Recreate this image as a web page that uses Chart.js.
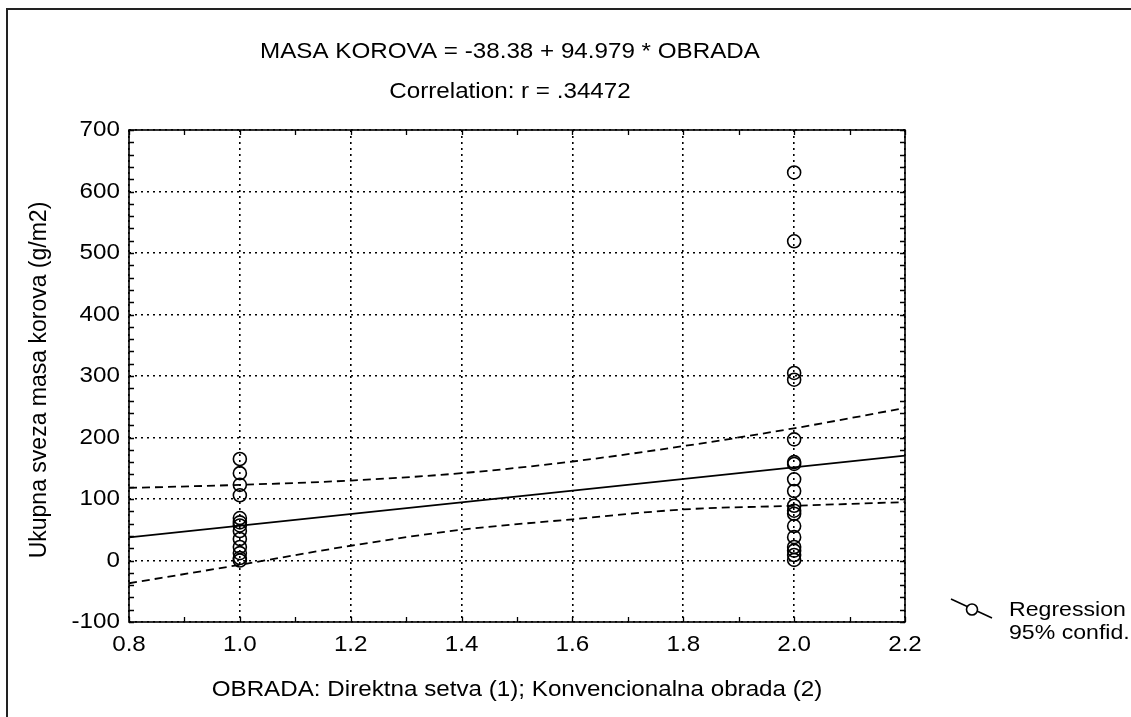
<!DOCTYPE html>
<html>
<head>
<meta charset="utf-8">
<script src="https://cdn.jsdelivr.net/npm/chart.js@4/dist/chart.umd.min.js"></script>
<style>
  html, body { margin: 0; padding: 0; background: #fff; overflow: hidden; }
  #wrap { position: relative; width: 1131px; height: 717px; }
  #frame { position: absolute; left: 6px; top: 8px; width: 2000px; height: 2000px;
           border: 2px solid #222; box-sizing: border-box; }
  #c { position: absolute; left: 0; top: 0; }
</style>
</head>
<body>
<div id="wrap">
  <div id="frame"></div>
  <canvas id="c" width="1131" height="717"></canvas>
</div>
<script>
/* ── data ─────────────────────────────────────── */
const xTicks = [0.8, 1.0, 1.2, 1.4, 1.6, 1.8, 2.0, 2.2];
const yTicks = [-100, 0, 100, 200, 300, 400, 500, 600, 700];

// OBRADA = 1 (Direktna setva)
const direktnaMasa = [165, 142, 123, 106, 69, 62, 57, 48, 35, 22, 12, 4, 0];
// OBRADA = 2 (Konvencionalna obrada)
const konvMasa = [631, 519, 305, 294, 197, 160, 157, 132, 113, 89, 81, 76, 56, 38, 22, 16, 9, 1];

// regression line end points
const regX = [0.8, 2.2];
const regY = [37.6, 170.6];

// 95% confidence band
const bandX   = [0.8, 1.0, 1.2, 1.4, 1.6, 1.8, 2.0, 2.2];
const upper95 = [118, 123, 130, 142, 161, 186, 215, 248];
const lower95 = [-37, -7, 24, 50, 67, 83, 89, 95];

const TITLE_1 = 'MASA KOROVA = -38.38 + 94.979 * OBRADA';
const TITLE_2 = 'Correlation: r = .34472';
const X_TITLE = 'OBRADA: Direktna setva (1); Konvencionalna obrada (2)';
const Y_TITLE = 'Ukupna sveza masa korova (g/m2)';

/* ── text helpers (the source is stretched wide) ── */
const FONT = '"Liberation Sans", Arial, sans-serif';
const SX = 1.1;

function wideText(ctx, str, x, y, align, size) {
  ctx.save();
  ctx.translate(x, y);
  ctx.scale(SX, 1);
  ctx.font = size + 'px ' + FONT;
  ctx.fillStyle = '#000';
  ctx.textAlign = align;
  ctx.textBaseline = 'middle';
  ctx.fillText(str, 0, 0);
  ctx.restore();
}

/* ── overlay: frame, inward ticks, labels, legend ── */
const overlay = {
  id: 'overlay',
  afterDraw(chart) {
    const ctx = chart.ctx;
    const a = chart.chartArea;
    const xs = chart.scales.x, ys = chart.scales.y;

    ctx.save();
    ctx.strokeStyle = '#000';
    ctx.lineWidth = 1.6;
    ctx.strokeRect(a.left, a.top, a.right - a.left, a.bottom - a.top);

    // minor + major ticks pointing in, on all four sides
    ctx.lineWidth = 1.3;
    ctx.beginPath();
    for (let v = 0.8; v <= 2.2001; v += 0.1) {
      const px = Math.round(xs.getPixelForValue(v)) + 0.5;
      ctx.moveTo(px, a.bottom); ctx.lineTo(px, a.bottom - 5);
      ctx.moveTo(px, a.top);    ctx.lineTo(px, a.top + 5);
    }
    for (let v = -100; v <= 700; v += 20) {
      const py = Math.round(ys.getPixelForValue(v)) + 0.5;
      ctx.moveTo(a.left, py);  ctx.lineTo(a.left + 5, py);
      ctx.moveTo(a.right, py); ctx.lineTo(a.right - 5, py);
    }
    ctx.stroke();
    ctx.restore();

    // tick labels
    yTicks.forEach(v => wideText(ctx, String(v), a.left - 9, ys.getPixelForValue(v), 'right', 22));
    xTicks.forEach(v => wideText(ctx, v.toFixed(1), xs.getPixelForValue(v), 645, 'center', 22));

    // titles
    wideText(ctx, TITLE_1, 510, 52, 'center', 22);
    wideText(ctx, TITLE_2, 510, 92, 'center', 22);
    wideText(ctx, X_TITLE, 517, 690, 'center', 22);

    ctx.save();
    ctx.translate(40, 380);
    ctx.rotate(-Math.PI / 2);
    ctx.font = '23px ' + FONT;
    ctx.fillStyle = '#000';
    ctx.textAlign = 'center';
    ctx.textBaseline = 'middle';
    ctx.fillText(Y_TITLE, 0, 0);
    ctx.restore();

    // legend
    ctx.save();
    ctx.strokeStyle = '#000';
    ctx.lineWidth = 1.6;
    ctx.beginPath();
    ctx.moveTo(951, 599); ctx.lineTo(992, 618);
    ctx.stroke();
    ctx.beginPath();
    ctx.arc(972, 609.5, 5.5, 0, Math.PI * 2);
    ctx.fillStyle = '#fff';
    ctx.fill();
    ctx.stroke();
    ctx.restore();
    wideText(ctx, 'Regression', 1009, 610, 'left', 21);
    wideText(ctx, '95% confid.', 1009, 633, 'left', 21);
  }
};

/* ── build datasets ────────────────────────────── */
const pointData = [
  ...direktnaMasa.map(m => ({ x: 1.0, y: m })),
  ...konvMasa.map(m => ({ x: 2.0, y: m })),
];
const regData   = regX.map((x, i) => ({ x, y: regY[i] }));
const upperData = bandX.map((x, i) => ({ x, y: upper95[i] }));
const lowerData = bandX.map((x, i) => ({ x, y: lower95[i] }));

const bandStyle = {
  showLine: true, pointRadius: 0, borderColor: '#000', borderWidth: 1.8,
  borderDash: [8, 5], tension: 0.4, cubicInterpolationMode: 'monotone', fill: false,
};

new Chart(document.getElementById('c'), {
  type: 'scatter',
  data: {
    datasets: [
      { label: 'points', data: pointData, pointRadius: 6.5, borderWidth: 1.6,
        borderColor: '#000', backgroundColor: 'rgba(0,0,0,0)', order: 0 },
      { label: 'Regression', data: regData, showLine: true, pointRadius: 0,
        borderColor: '#000', borderWidth: 1.9, order: 1 },
      { label: 'upper', data: upperData, ...bandStyle, order: 2 },
      { label: 'lower', data: lowerData, ...bandStyle, order: 2 },
    ],
  },
  options: {
    responsive: false, animation: false, devicePixelRatio: 1,
    layout: { padding: { left: 129, right: 226, top: 130, bottom: 95 } },
    plugins: { legend: { display: false }, tooltip: { enabled: false } },
    scales: {
      x: {
        type: 'linear', min: 0.8, max: 2.2,
        afterBuildTicks: s => { s.ticks = xTicks.map(v => ({ value: v })); },
        afterFit: s => { s.height = 0; },
        ticks: { display: false },
        grid: { color: '#000', lineWidth: 1.6, drawTicks: false },
        border: { display: false, dash: [2, 4] },
      },
      y: {
        type: 'linear', min: -100, max: 700,
        afterBuildTicks: s => { s.ticks = yTicks.map(v => ({ value: v })); },
        afterFit: s => { s.width = 0; },
        ticks: { display: false },
        grid: { color: '#000', lineWidth: 1.6, drawTicks: false },
        border: { display: false, dash: [2, 4] },
      },
    },
  },
  plugins: [overlay],
});
</script>
</body>
</html>
